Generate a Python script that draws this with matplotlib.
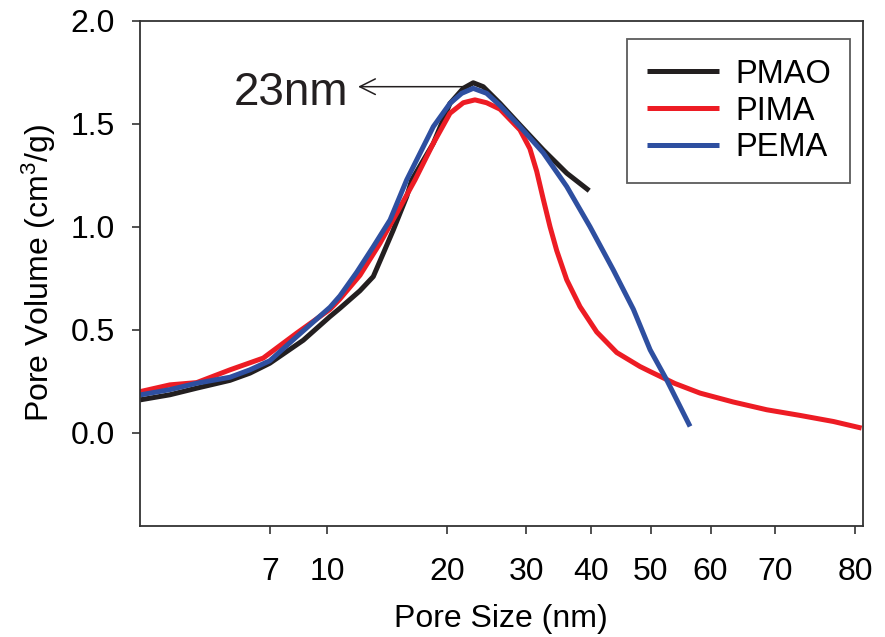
import numpy as np
import matplotlib.pyplot as plt

plt.rcParams['font.family'] = ['Liberation Sans', 'DejaVu Sans']
plt.rcParams['mathtext.fontset'] = 'custom'
plt.rcParams['mathtext.rm'] = 'Liberation Sans'
plt.rcParams['mathtext.it'] = 'Liberation Sans:italic'

# tick values on the pore size axis
size_ticks = [7, 10, 20, 30, 40, 50, 60, 70, 80]

# PMAO
pmao_x = [3.13, 3.77, 4.45, 5.47, 6.19, 7.0, 8.62, 10.16, 10.76, 12.08, 13.05,
          13.83, 14.65, 15.83, 16.3, 18.47, 20.3, 21.73, 22.87, 24.07, 26.23,
          29.06, 32.37, 35.94, 39.72]
pmao_y = [0.16, 0.185, 0.217, 0.255, 0.29, 0.338, 0.45, 0.565, 0.605, 0.69, 0.759,
          0.872, 0.985, 1.147, 1.228, 1.406, 1.60, 1.673, 1.70, 1.681, 1.60,
          1.495, 1.374, 1.261, 1.176]

# PIMA
pima_x = [3.13, 3.77, 4.45, 5.47, 6.72, 8.27, 10.16, 10.76, 12.08, 13.56, 14.94,
          16.61, 18.47, 20.3, 21.73, 23.07, 24.49, 26.23, 29.06, 30.5, 31.44,
          32.37, 33.36, 34.37, 35.94, 38.12, 40.89, 44.06, 48.05, 49.87, 53.8,
          58.1, 63.3, 68.6, 72.9, 77.14, 80.85]
pima_y = [0.2, 0.233, 0.244, 0.306, 0.363, 0.484, 0.60, 0.65, 0.765, 0.92, 1.066,
          1.228, 1.406, 1.552, 1.603, 1.617, 1.603, 1.572, 1.471, 1.38, 1.27,
          1.135, 1.001, 0.885, 0.743, 0.613, 0.49, 0.39, 0.322, 0.298, 0.24,
          0.193, 0.15, 0.112, 0.085, 0.055, 0.023]

# PEMA
pema_x = [3.13, 3.77, 4.45, 5.47, 6.19, 7.0, 8.27, 10.16, 10.76, 11.86, 13.05,
          14.38, 15.83, 16.77, 18.47, 20.3, 21.56, 22.87, 24.49, 26.23, 29.06,
          32.37, 35.94, 39.86, 43.5, 46.88, 49.9, 52.5, 56.37]
pema_y = [0.184, 0.21, 0.241, 0.27, 0.306, 0.35, 0.467, 0.61, 0.665, 0.78, 0.904,
          1.034, 1.228, 1.325, 1.487, 1.60, 1.649, 1.673, 1.649, 1.59, 1.487,
          1.36, 1.196, 1.001, 0.791, 0.60, 0.403, 0.257, 0.031]

# the x axis of the original is neither linear nor log: spacing of its ticks
axis_vals = [2, 7, 10, 20, 30, 40, 50, 60, 70, 80, 100]
axis_pos = [-72.2, 129.8, 187.3, 307.1, 386.2, 450.8, 510.7, 570.6, 635.3, 715.3, 848.9]
log_vals = np.log10(axis_vals)


def fwd(x):
    x = np.clip(np.asarray(x, dtype=float), 1e-3, None)
    return np.interp(np.log10(x), log_vals, axis_pos, left=-200, right=1000)


def inv(p):
    return 10 ** np.interp(p, axis_pos, log_vals)


fig = plt.figure(figsize=(8.85, 6.37), dpi=100)
ax = fig.add_axes([140 / 885, 1 - 525.5 / 637, 722.5 / 885, 504.5 / 637])
ax.set_xscale('function', functions=(fwd, inv))

lw = 3.6
ax.plot(pmao_x, pmao_y, color='#231f20', lw=lw, label='PMAO', solid_capstyle='butt')
ax.plot(pima_x, pima_y, color='#ed1c24', lw=lw, label='PIMA', solid_capstyle='butt')
ax.plot(pema_x, pema_y, color='#2e4fa0', lw=lw, label='PEMA', solid_capstyle='butt')

ax.set_xlim(3.13, 80.97)
ax.set_ylim(-0.45, 2.0)
ax.set_xticks(size_ticks)
ax.set_xticklabels([str(v) for v in size_ticks])
ax.set_yticks([0.0, 0.5, 1.0, 1.5, 2.0])
ax.set_yticklabels(['0.0', '0.5', '1.0', '1.5', '2.0'])
ax.minorticks_off()

ax.tick_params(axis='both', direction='out', length=6, width=1.2, labelsize=23,
               color='#333333')
ax.tick_params(axis='x', pad=17)
ax.tick_params(axis='y', pad=12)
for s in ax.spines.values():
    s.set_linewidth(1.3)
    s.set_color('#333333')

ax.set_xlabel('Pore Size (nm)', fontsize=23, labelpad=12)
ax.set_ylabel('Pore Volume (cm$^3$/g)', fontsize=23, labelpad=9)

ax.annotate('', xy=(11.95, 1.681), xytext=(21.7, 1.681),
            arrowprops=dict(arrowstyle='->', color='#231f20', lw=1.1,
                            mutation_scale=28, shrinkA=0, shrinkB=0))
ax.text(11.3, 1.592, '23nm', fontsize=33, ha='right', va='baseline', color='#231f20')

leg = ax.legend(loc='upper right', bbox_to_anchor=(0.983, 0.964), borderaxespad=0,
                fontsize=23.5, frameon=True, fancybox=False, handlelength=2.2,
                handletextpad=0.5, borderpad=0.6, labelspacing=0.18)
leg.get_frame().set_edgecolor('#333333')
leg.get_frame().set_linewidth(1.3)

fig.savefig('out.png', dpi=100)
